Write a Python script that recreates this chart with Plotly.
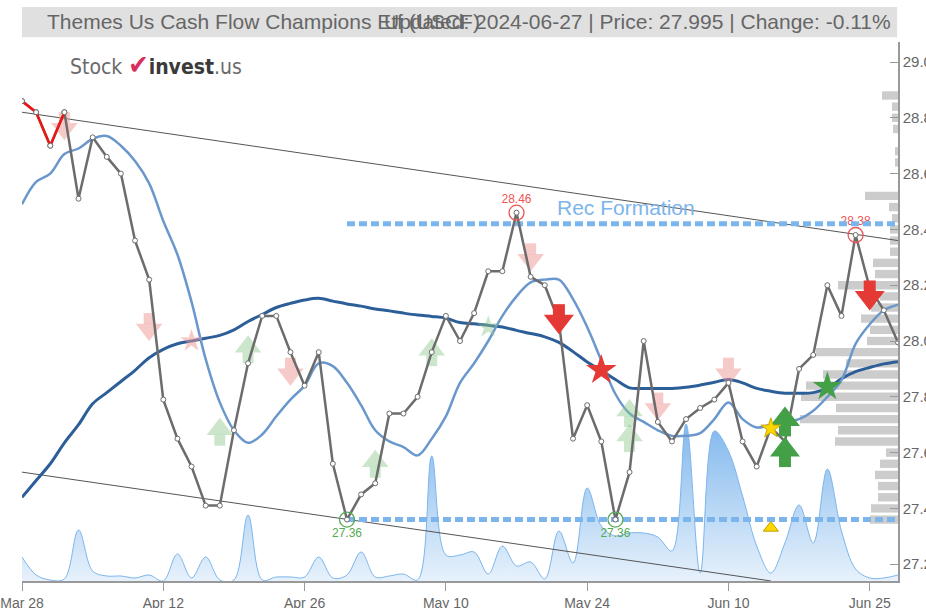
import plotly.graph_objects as go

# ---------------- data ----------------
tick_idx = [0, 10, 20, 30, 40, 50, 60]
tick_text = ["Mar 28", "Apr 12", "Apr 26", "May 10", "May 24", "Jun 10", "Jun 25"]
price_ticks = [27.2, 27.4, 27.6, 27.8, 28.0, 28.2, 28.4, 28.6, 28.8, 29.0]

price = [28.86, 28.82, 28.70, 28.82, 28.51, 28.73, 28.66, 28.60, 28.36, 28.22,
         27.79, 27.65, 27.55, 27.41, 27.41, 27.68, 27.92, 28.09, 28.09, 27.96,
         27.84, 27.96, 27.56, 27.36, 27.45, 27.49, 27.74, 27.74, 27.80, 27.96,
         28.09, 28.00, 28.10, 28.25, 28.25, 28.46, 28.23, 28.20, 28.07, 27.65,
         27.77, 27.64, 27.36, 27.53, 28.00, 27.71, 27.64, 27.72, 27.76, 27.79,
         27.85, 27.64, 27.55, 27.69, 27.64, 27.90, 27.95, 28.20, 28.09, 28.38,
         28.19, 28.11, 27.995]

ma_fast = [28.49, 28.57, 28.60, 28.67, 28.69, 28.725, 28.735, 28.70, 28.645, 28.565,
           28.43, 28.31, 28.14, 27.935, 27.78, 27.68, 27.635, 27.665, 27.73, 27.79,
           27.84, 27.92, 27.91, 27.85, 27.77, 27.68, 27.64, 27.62, 27.59, 27.65,
           27.73, 27.85, 27.92, 28.00, 28.09, 28.16, 28.21, 28.22, 28.22, 28.15,
           28.05, 27.93, 27.81, 27.74, 27.71, 27.68, 27.66, 27.66, 27.67, 27.72,
           27.78, 27.72, 27.69, 27.70, 27.71, 27.72, 27.75, 27.80, 27.86, 27.99,
           28.06, 28.11, 28.13]

ma_slow = [27.44, 27.50, 27.56, 27.635, 27.70, 27.775, 27.815, 27.855, 27.895, 27.94,
           27.97, 27.99, 28.00, 28.01, 28.02, 28.04, 28.07, 28.095, 28.12, 28.135,
           28.147, 28.153, 28.143, 28.133, 28.125, 28.115, 28.108, 28.10, 28.093, 28.088,
           28.082, 28.066, 28.062, 28.056, 28.05, 28.038, 28.027, 28.015, 27.995, 27.962,
           27.925, 27.895, 27.862, 27.832, 27.83, 27.83, 27.83, 27.834, 27.842, 27.852,
           27.862, 27.85, 27.83, 27.82, 27.813, 27.813, 27.815, 27.83, 27.865, 27.89,
           27.905, 27.918, 27.926]

volume = [24, 6, 1, 2, 51, 10, 5, 5, 3, 6,
          0, 27, 3, 24, 1, 1, 66, 1, 4, 4,
          4, 24, 3, 6, 29, 4, 5, 7, 1, 125,
          26, 26, 29, 7, 35, 15, 19, 2, 50, 18,
          93, 55, 45, 48, 48, 44, 30, 157, 8, 150,
          130, 85, 35, 8, 38, 76, 38, 112, 50, 12,
          3, 3, 6]

vp_price = [27.36, 27.40, 27.44, 27.48, 27.52, 27.56, 27.60, 27.64, 27.68, 27.72,
            27.76, 27.80, 27.84, 27.88, 27.92, 27.96, 28.00, 28.04, 28.08, 28.12,
            28.16, 28.20, 28.24, 28.28, 28.32, 28.36, 28.40, 28.44, 28.48, 28.52,
            28.56, 28.60, 28.64, 28.68, 28.72, 28.76, 28.80, 28.84, 28.88]
vp_volume = [28, 27, 20, 20, 23, 18, 12, 63, 60, 98,
             62, 97, 92, 75, 52, 82, 31, 28, 37, 27,
             18, 60, 23, 25, 8, 8, 8, 6, 9, 33,
             0, 0, 3, 3, 0, 5, 6, 6, 16]

upper_trend_idx = [0, 62]
upper_trend_val = [28.82, 28.36]
lower_trend_idx = [0, 53]
lower_trend_val = [27.53, 27.14]

level_idx = [23, 62]
resistance = 28.42
support = 27.36

high_idx = [35, 59]
high_val = [28.46, 28.38]
low_idx = [23, 42]
low_val = [27.36, 27.36]

faint_down_idx = [3, 9, 19, 36, 45, 50]
faint_down_val = [28.77, 28.05, 27.89, 28.30, 27.765, 27.89]
faint_up_idx = [14, 16, 25, 29, 43, 43]
faint_up_val = [27.675, 27.97, 27.56, 27.96, 27.742, 27.652]
faint_red_star_idx = [12]
faint_red_star_val = [28.00]
faint_green_star_idx = [33]
faint_green_star_val = [28.05]

sell_idx = [38, 60]
sell_val = [28.08, 28.165]
buy_idx = [54, 54]
buy_val = [27.71, 27.60]
red_star_idx = [41]
red_star_val = [27.896]
green_star_idx = [57]
green_star_val = [27.836]
yellow_star_idx = [53]
yellow_star_val = [27.687]
triangle_idx = [53]
triangle_val = [27.33]

title_left = "Themes Us Cash Flow Champions Etf (USCF)"
title_right = "Updated: 2024-06-27 | Price: 27.995 | Change: -0.11%"

# ---------------- geometry helpers ----------------
N = len(price)
X_MAX = N - 1
Y0, Y1 = 27.1398, 29.0717
PLOT_W, PLOT_H = 876, 539
PX = (Y1 - Y0) / PLOT_H        # price units per pixel
IDX_PER_PX = X_MAX / PLOT_W    # index units per pixel

FONT = "Liberation Sans, Arial, sans-serif"
P = dict(xaxis="x", yaxis="y2", hoverinfo="skip", showlegend=False)

fig = go.Figure()

# volume area on the hidden primary y axis (drawn first = behind everything)
fig.add_trace(go.Scatter(
    x=list(range(N)), y=volume, xaxis="x", yaxis="y", mode="lines",
    line=dict(color="rgb(124,181,236)", width=1, shape="spline", smoothing=1.0),
    fill="tozeroy",
    fillgradient=dict(type="vertical",
                      colorscale=[[0, "rgba(124,181,236,0.18)"], [1, "rgba(124,181,236,0.95)"]]),
    hoverinfo="skip", showlegend=False))

# volume-by-price bars anchored to the right edge
vp_len = [v * IDX_PER_PX for v in vp_volume]
fig.add_trace(go.Bar(
    x=vp_len, base=[X_MAX - l for l in vp_len], y=vp_price, orientation="h",
    width=0.03, marker=dict(color="rgba(195,195,195,0.85)", line=dict(width=0)), **P))

# trend channel
fig.add_trace(go.Scatter(x=upper_trend_idx, y=upper_trend_val, mode="lines",
                         line=dict(color="#555555", width=1), **P))
fig.add_trace(go.Scatter(x=lower_trend_idx, y=lower_trend_val, mode="lines",
                         line=dict(color="#555555", width=1), **P))

# high/low labels (drawn under the dashed levels)
fig.add_trace(go.Scatter(x=high_idx, y=[v + 13 * PX for v in high_val], mode="text",
                         text=[f"{v:.2f}" for v in high_val],
                         textfont=dict(color="#ee5555", size=12, family=FONT), **P))
fig.add_trace(go.Scatter(x=low_idx, y=[v - 14 * PX for v in low_val], mode="text",
                         text=[f"{v:.2f}" for v in low_val],
                         textfont=dict(color="#55aa55", size=12, family=FONT), **P))

# support / resistance
for lvl in (resistance, support):
    fig.add_trace(go.Scatter(x=level_idx, y=[lvl, lvl], mode="lines",
                             line=dict(color="rgb(124,181,236)", width=5, dash="8px,4px"), **P))

# moving averages
fig.add_trace(go.Scatter(x=list(range(N)), y=ma_slow, mode="lines",
                         line=dict(color="rgb(44,94,152)", width=3, shape="spline"), **P))
fig.add_trace(go.Scatter(x=list(range(N)), y=ma_fast, mode="lines",
                         line=dict(color="rgb(106,152,204)", width=2.5, shape="spline"), **P))


def arrows(idx, val, color, down, size=24, stem=12):
    sgn = 1 if down else -1
    stem_y = [v + sgn * 8.5 * PX for v in val]
    head_y = [v - sgn * 2.5 * PX for v in val]
    fig.add_trace(go.Scatter(x=idx, y=stem_y, mode="markers",
                             marker=dict(symbol="square", size=stem, color=color, line=dict(width=0)),
                             **P))
    fig.add_trace(go.Scatter(x=idx, y=head_y, mode="markers",
                             marker=dict(symbol="triangle-down" if down else "triangle-up",
                                         size=size, color=color, line=dict(width=0)), **P))


def stars(idx, val, color, size, line_color=None):
    fig.add_trace(go.Scatter(x=idx, y=val, mode="markers",
                             marker=dict(symbol="star", size=size, color=color,
                                         line=dict(width=1 if line_color else 0,
                                                   color=line_color or color)), **P))


PINK = "rgba(240,150,150,0.5)"
LGREEN = "rgba(140,200,140,0.45)"
arrows(faint_down_idx, faint_down_val, PINK, True, size=23, stem=11)
arrows(faint_up_idx, faint_up_val, LGREEN, False, size=23, stem=11)
stars(faint_red_star_idx, faint_red_star_val, PINK, 17)
stars(faint_green_star_idx, faint_green_star_val, LGREEN, 17)

# price line
fig.add_trace(go.Scatter(x=list(range(N)), y=price, mode="lines+markers",
                         line=dict(color="rgb(108,108,108)", width=2.5),
                         marker=dict(symbol="circle", size=5, color="white",
                                     line=dict(color="rgb(108,108,108)", width=1)), **P))
fig.add_trace(go.Scatter(x=list(range(4)), y=price[:4], mode="lines+markers",
                         line=dict(color="rgb(240,20,20)", width=2.5),
                         marker=dict(symbol="circle", size=5, color="white",
                                     line=dict(color="rgb(108,108,108)", width=1)), **P))

# high / low circles
fig.add_trace(go.Scatter(x=high_idx, y=high_val, mode="markers",
                         marker=dict(symbol="circle-open", size=15, color="#ee5555",
                                     line=dict(width=1.3)), **P))
fig.add_trace(go.Scatter(x=low_idx, y=low_val, mode="markers",
                         marker=dict(symbol="circle-open", size=15, color="#55aa55",
                                     line=dict(width=1.3)), **P))

# strong signals
RED = "rgb(229,57,53)"
GREEN = "rgb(67,160,71)"
arrows(sell_idx, sell_val, RED, True, size=26, stem=12)
arrows(buy_idx, buy_val, GREEN, False, size=26, stem=12)
stars(red_star_idx, red_star_val, RED, 23)
stars(green_star_idx, green_star_val, GREEN, 22)
stars(yellow_star_idx, yellow_star_val, "rgb(255,215,0)", 15, "rgb(200,170,0)")
fig.add_trace(go.Scatter(x=triangle_idx, y=triangle_val, mode="markers",
                         marker=dict(symbol="triangle-up", size=13, color="rgb(255,215,0)",
                                     line=dict(width=1, color="rgb(190,160,0)")), **P))

# ---------------- layout ----------------
fig.update_layout(
    width=926, height=608,
    margin=dict(l=22, r=28, t=42, b=27, autoexpand=False),
    paper_bgcolor="white", plot_bgcolor="white",
    font=dict(family=FONT, color="#666666", size=14),
    showlegend=False,
    xaxis=dict(range=[0, X_MAX], tickvals=tick_idx, ticktext=tick_text, automargin=False,
               showgrid=False, zeroline=False, showline=True, linecolor="#999999", linewidth=1.5,
               ticks="outside", ticklen=8, tickcolor="#999999",
               tickfont=dict(size=14, color="#666666")),
    yaxis=dict(range=[0, PLOT_H], visible=False, showgrid=False, zeroline=False,
               automargin=False),
    yaxis2=dict(range=[Y0, Y1], overlaying="y", side="right", tickvals=price_ticks,
                automargin=False, ticktext=[f"{v:.1f}" for v in price_ticks],
                showgrid=False, zeroline=False, showline=True, linecolor="#999999", linewidth=1.5,
                ticks="inside", ticklen=8, tickcolor="#999999",
                tickfont=dict(size=15, color="#666666")),
)

# title bar
fig.add_shape(type="rect", xref="paper", yref="paper", x0=0, x1=0.999, y0=1.009, y1=1.065,
              fillcolor="rgb(224,224,224)", line=dict(width=0), layer="below")
fig.add_annotation(xref="paper", yref="paper", x=0.026, y=1.038, xanchor="left", yanchor="middle",
                   text=title_left, showarrow=False,
                   font=dict(size=21, color="rgb(102,102,102)", family=FONT))
fig.add_annotation(xref="paper", yref="paper", x=0.994, y=1.038, xanchor="right", yanchor="middle",
                   text=title_right, showarrow=False,
                   font=dict(size=21, color="rgb(102,102,102)", family=FONT))

# logo
fig.add_annotation(xref="paper", yref="paper", x=0.0525, y=0.958, xanchor="left", yanchor="middle",
                   text=("<span style='color:#6a6a6a'>Stock </span>"
                         "<span style='color:#d8305e;font-size:27px'><b>✔</b></span>"
                         "<b><span style='color:#3a3a3a'>invest</span></b>"
                         "<span style='color:#6a6a6a'>.us</span>"),
                   showarrow=False, font=dict(size=21, family="DejaVu Sans Condensed, " + FONT))

# pattern label
fig.add_annotation(x=37.7, y=28.477, xref="x", yref="y2", xanchor="left", yanchor="middle",
                   text="Rec Formation", showarrow=False,
                   font=dict(size=21, color="rgb(124,181,236)", family=FONT))

fig.write_html("out.html", config={"displayModeBar": False},
               post_script="document.body.style.margin='0px';document.body.style.overflow='hidden';")
